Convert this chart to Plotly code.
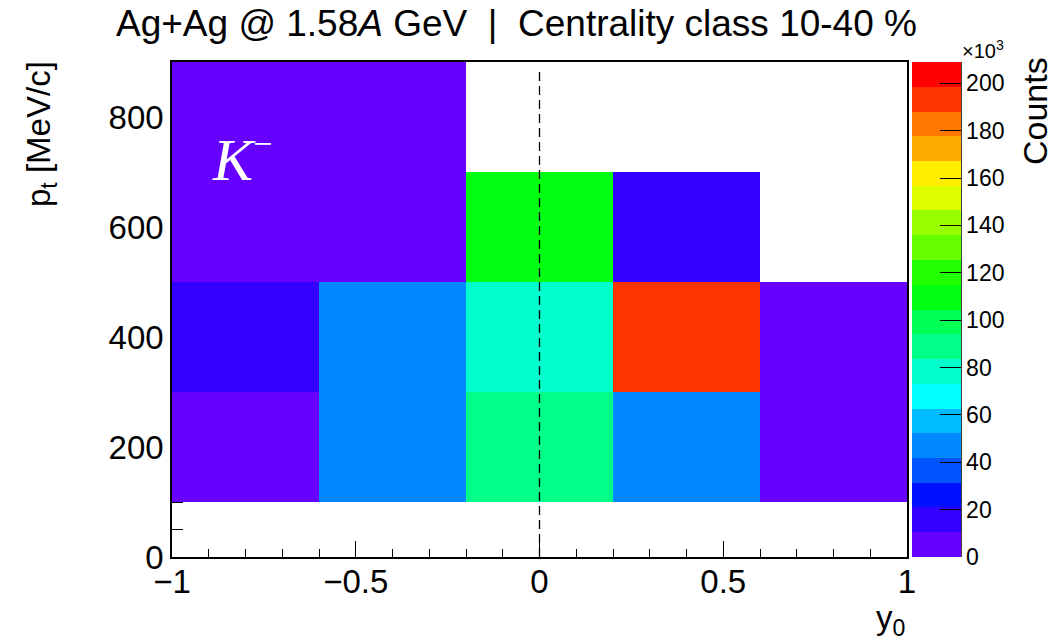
import numpy as np
import plotly.graph_objects as go

# Irregular (y0, pt) bins of the K- yield; counts in units of 10^3
bin_y_lo = [-1.0, -1.0, -1.0, -0.6, -0.2, -0.2, -0.2, 0.2, 0.2, 0.2, 0.6]
bin_y_hi = [-0.6, -0.6, -0.2, -0.2, 0.2, 0.2, 0.2, 0.6, 0.6, 0.6, 1.0]
bin_pt_lo = [100, 300, 500, 100, 100, 300, 500, 100, 300, 500, 100]
bin_pt_hi = [300, 500, 900, 500, 300, 500, 700, 300, 500, 700, 500]
bin_counts_k = [5.2, 15.7, 5.2, 47.0, 89.0, 78.0, 110.0, 47.0, 193.0, 15.7, 5.2]

# Bin edges of the underlying grid
y_edges = [-1.0, -0.6, -0.2, 0.2, 0.6, 1.0]
pt_edges = [100, 300, 500, 700, 900]

# Colour axis
z_max_k = 209.0
cbar_ticks = list(range(0, 201, 20))
x_tick_vals = [-1, -0.5, 0, 0.5, 1]
x_tick_text = ["\u22121", "\u22120.5", "0", "0.5", "1"]
y_tick_vals = [0, 200, 400, 600, 800]

# 20-level rainbow palette (low -> high)
palette = ["#6600FF", "#3300FF", "#0011FF", "#0055FF", "#0088FF",
           "#00BBFF", "#00FFFF", "#00FFCC", "#00FF88", "#00FF55",
           "#00FF11", "#22FF00", "#66FF00", "#99FF00", "#DDFF00",
           "#FFEE00", "#FFAA00", "#FF7700", "#FF3300", "#FF0000"]

n = len(palette)
colorscale = []
for i, c in enumerate(palette):
    colorscale.append([i / n, c])
    colorscale.append([(i + 1) / n, c])

# Fill the rectilinear grid from the bin list
yc = [(a + b) / 2 for a, b in zip(y_edges[:-1], y_edges[1:])]
pc = [(a + b) / 2 for a, b in zip(pt_edges[:-1], pt_edges[1:])]
z = [[None] * len(yc) for _ in pc]
for x0, x1, p0, p1, v in zip(bin_y_lo, bin_y_hi, bin_pt_lo, bin_pt_hi, bin_counts_k):
    for j, pv in enumerate(pc):
        for i, xv in enumerate(yc):
            if x0 < xv < x1 and p0 < pv < p1:
                z[j][i] = v

FONT = "Liberation Sans, Arial, Helvetica, sans-serif"
SERIF = "Liberation Serif, Times New Roman, serif"

fig = go.Figure()
fig.add_trace(go.Heatmap(
    x=y_edges, y=pt_edges, z=z,
    zmin=0, zmax=z_max_k,
    colorscale=colorscale,
    hoverongaps=False,
    colorbar=dict(
        thickness=49, thicknessmode="pixels",
        len=1, lenmode="fraction",
        x=(912 - 172) / 735, xanchor="left", xpad=0,
        y=0.5, yanchor="middle", ypad=0,
        tickvals=cbar_ticks, ticktext=[str(t) for t in cbar_ticks],
        ticks="inside", ticklen=21, tickwidth=1.3, tickcolor="black",
        tickfont=dict(family=FONT, size=23, color="black"),
        outlinewidth=0,
    ),
))

fig.update_layout(
    width=1062, height=644,
    margin=dict(l=172, r=155, t=62, b=87, pad=0),
    paper_bgcolor="white", plot_bgcolor="white",
    showlegend=False,
    font=dict(family=FONT, color="black"),
)

fig.update_xaxes(
    range=[-1, 1], showgrid=False, zeroline=False,
    showline=True, linecolor="black", linewidth=1.5, mirror=True,
    ticks="inside", ticklen=16, tickwidth=1.3, tickcolor="black",
    tickvals=x_tick_vals, ticktext=x_tick_text,
    tickfont=dict(family=FONT, size=33, color="black"),
    ticklabelstandoff=-5,
    minor=dict(dtick=0.1, tick0=0, ticks="inside", ticklen=8, tickwidth=1.2, tickcolor="black"),
    layer="below traces",
)
fig.update_yaxes(
    range=[0, 900], showgrid=False, zeroline=False,
    showline=True, linecolor="black", linewidth=1.5, mirror=True,
    ticks="inside", ticklen=20, tickwidth=1.3, tickcolor="black",
    tickvals=y_tick_vals,
    tickfont=dict(family=FONT, size=33, color="black"),
    minor=dict(dtick=50, tick0=0, ticks="inside", ticklen=11, tickwidth=1.2, tickcolor="black"),
    layer="below traces",
)

# Mid-rapidity marker
fig.add_shape(type="line", xref="x", yref="y", x0=0, x1=0, y0=0, y1=886,
              line=dict(color="black", width=1.3, dash="9px,5px"), layer="above")
# Right edge of the colour scale
cb_edge = (961 - 172) / 735
fig.add_shape(type="line", xref="paper", yref="paper", x0=cb_edge, x1=cb_edge, y0=0, y1=1,
              line=dict(color="black", width=1.5))

ann = [
    dict(text="Ag+Ag @ 1.58<i>A</i> GeV\u00a0\u00a0|\u00a0\u00a0Centrality class 10-40 %",
         x=(516 - 172) / 735, y=(557 - 24) / 495, xanchor="center", yanchor="middle",
         font=dict(family=FONT, size=37, color="black")),
    dict(text="<i>K</i>",
         x=(234 - 172) / 735, y=(557 - 160) / 495, xanchor="center", yanchor="middle",
         font=dict(family=SERIF, size=60, color="white")),
    dict(text="\u2212",
         x=(262 - 172) / 735, y=(557 - 144) / 495, xanchor="center", yanchor="middle",
         font=dict(family=SERIF, size=34, color="white")),
    dict(text="p<sub>t</sub> [MeV/c]", textangle=-90,
         x=(41 - 172) / 735, y=(557 - 134) / 495, xanchor="center", yanchor="middle",
         font=dict(family=FONT, size=33, color="black")),
    dict(text="y<sub>0</sub>",
         x=1.0, y=(557 - 620) / 495, xanchor="right", yanchor="middle",
         font=dict(family=FONT, size=33, color="black")),
    dict(text="Counts", textangle=-90,
         x=(1035 - 172) / 735, y=(557 - 111) / 495, xanchor="center", yanchor="middle",
         font=dict(family=FONT, size=34, color="black")),
    dict(text="\u00d710<sup>3</sup>",
         x=(983 - 172) / 735, y=(557 - 49) / 495, xanchor="center", yanchor="middle",
         font=dict(family=FONT, size=20, color="black")),
]
for a in ann:
    a.update(xref="paper", yref="paper", showarrow=False)
    fig.add_annotation(**a)

fig.write_html("out.html")
